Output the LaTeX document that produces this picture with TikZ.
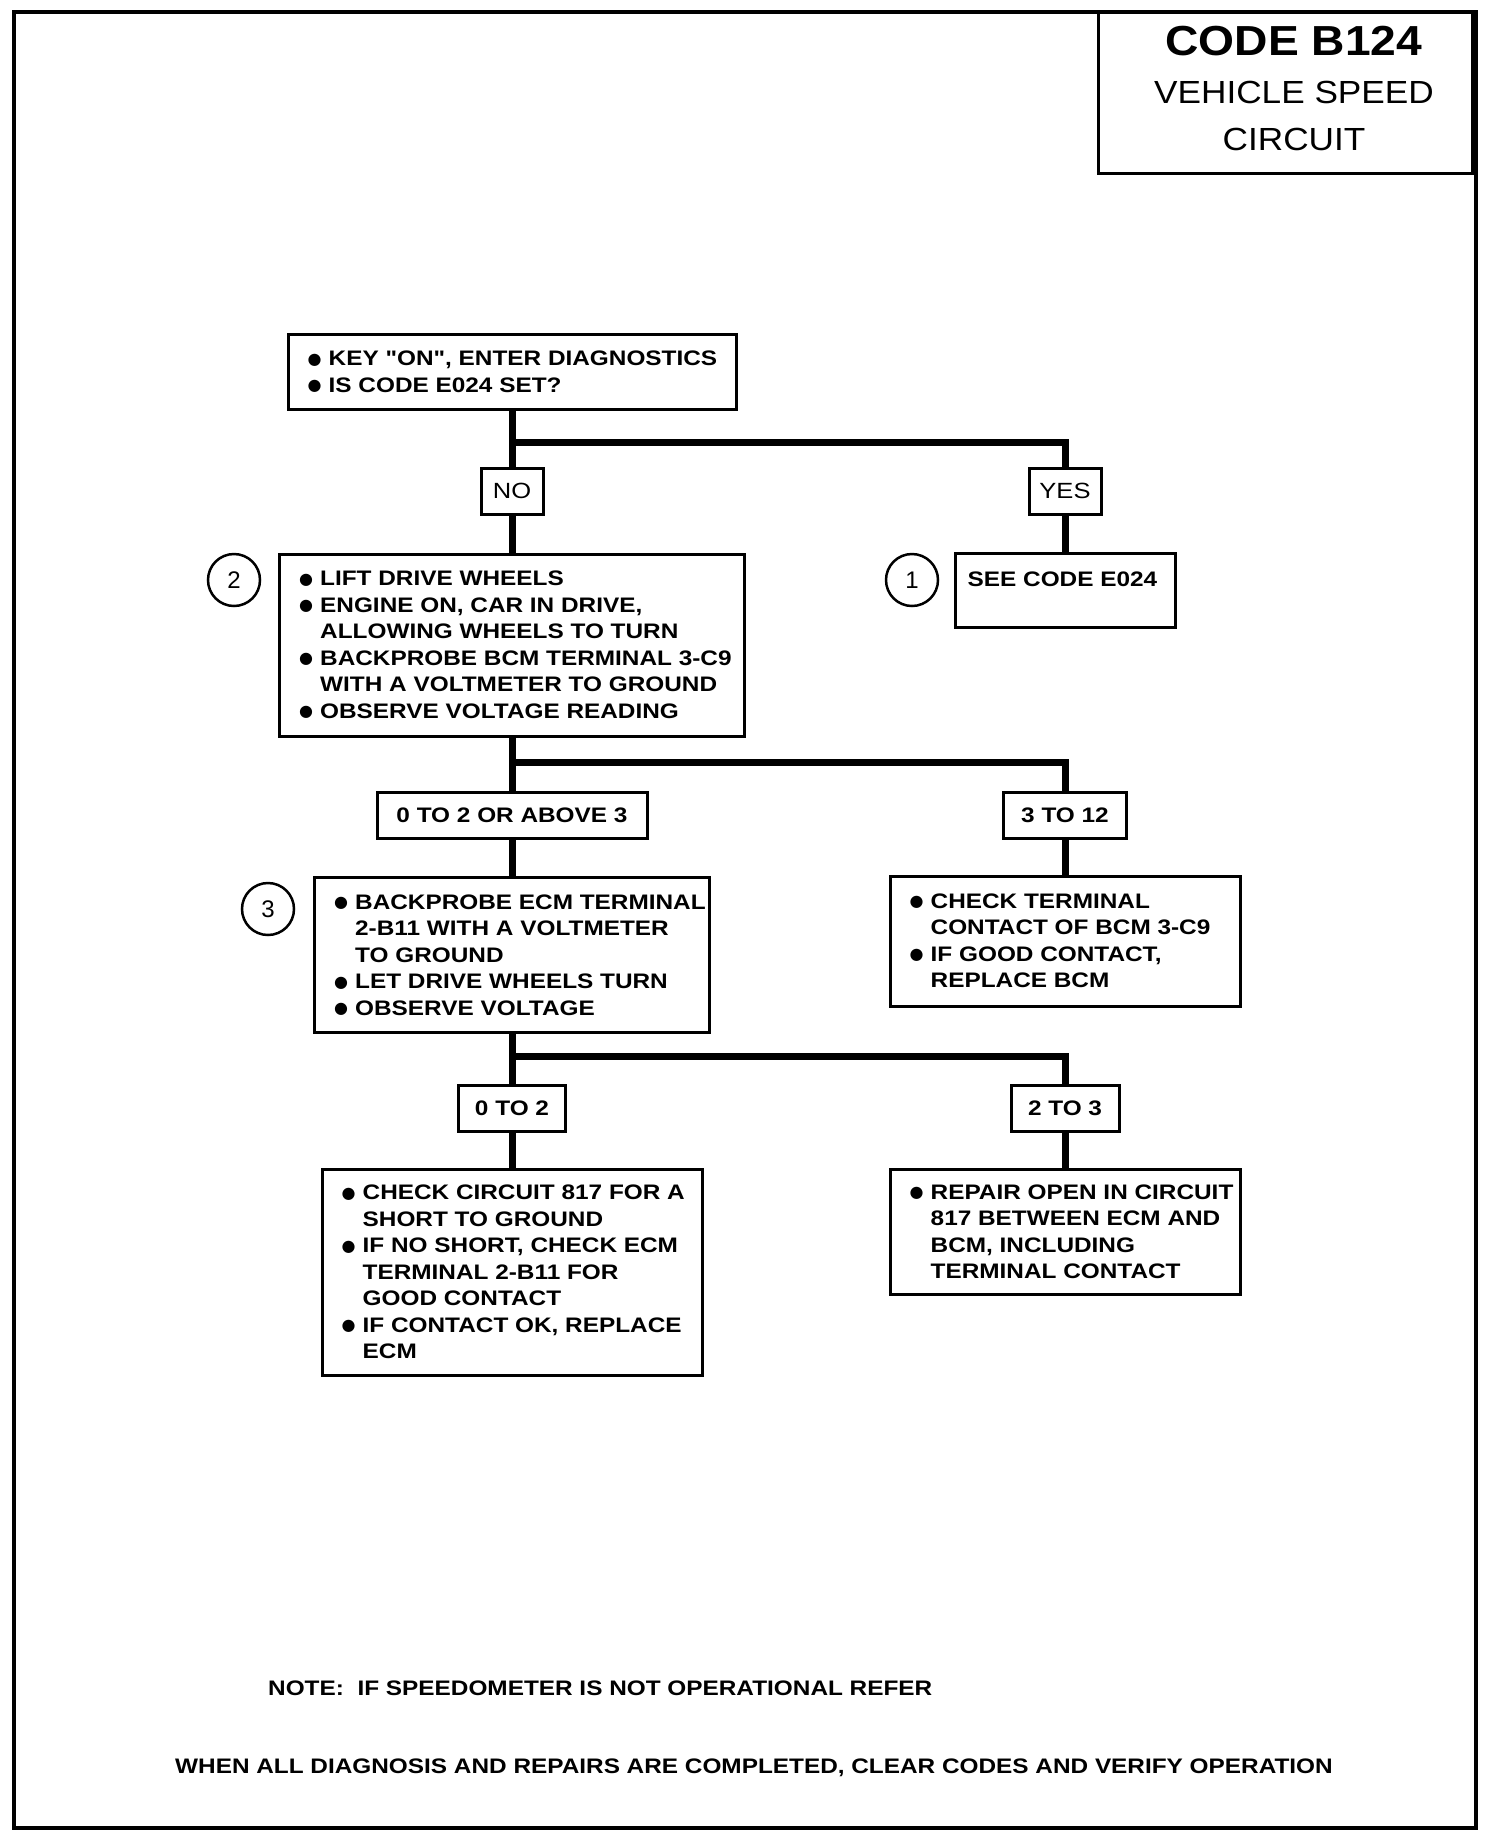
\documentclass[tikz,border=0pt]{standalone}
\usepackage{fontspec}
\setmainfont{Liberation Sans}
\newfontfamily\bodyf[FakeStretch=1.16]{Liberation Sans}
\newfontfamily\titlef[FakeStretch=1.1]{Liberation Sans}
\newfontfamily\symf{DejaVu Sans}
\newcommand{\bul}{\makebox[22pt][l]{\hspace*{1pt}\raisebox{1.5pt}{\symf\fontsize{16}{16}\selectfont ●}}}
\newcommand{\ind}{\hspace*{22pt}}
\begin{document}
\begin{tikzpicture}[x=1pt,y=-1pt,
  box/.style={draw, line width=3pt, inner sep=0pt},
  txt/.style={font=\bodyf\bfseries\fontsize{21}{26.5}\selectfont, align=left, inner sep=0pt, anchor=west},
  lab/.style={draw, line width=3pt, inner sep=0pt, minimum height=46pt, font=\bodyf\bfseries\fontsize{21}{26.5}\selectfont},
  ynlab/.style={draw, line width=3pt, inner sep=0pt, minimum height=46pt, font=\bodyf\fontsize{22}{22}\selectfont},
  conn/.style={line width=7pt},
  num/.style={circle, draw, line width=2.5pt, minimum size=52pt, inner sep=0pt, font=\fontsize{24}{24}\selectfont},
  note/.style={font=\bodyf\bfseries\fontsize{21}{21}\selectfont, inner sep=0pt}]
\useasboundingbox (0,0) rectangle (1488,1832);
\fill[white] (0,0) rectangle (1488,1832);
% outer frame
\node[draw, line width=3.5pt, minimum width=1462pt, minimum height=1816pt, inner sep=0pt, anchor=north west] (frame) at (12,10) {};
% title box
\node[draw, line width=3pt, minimum width=374pt, minimum height=162pt, inner sep=0pt, anchor=north east] (title) at (1474,10) {};
\node[font=\titlef\bfseries\fontsize{42}{42}\selectfont, inner sep=0pt] (t1) at (1294,41) {CODE B124};
\node[font=\titlef\fontsize{32}{32}\selectfont, inner sep=0pt] (t2) at (1294,92) {VEHICLE SPEED};
\node[font=\titlef\fontsize{32}{32}\selectfont, inner sep=0pt] (t3) at (1294,139) {CIRCUIT};

% box 1
\node[box, minimum width=448pt, minimum height=75pt] (b1) at (512,372) {};
\node[txt] (b1t) at ([xshift=20pt]b1.west) {\bul KEY "ON", ENTER DIAGNOSTICS\\\bul IS CODE E024 SET?};

\node[ynlab, minimum width=62pt] (no) at (512,491) {NO};
\node[ynlab, minimum width=72pt] (yes) at (1065,491) {YES};

% box 2
\node[box, minimum width=465pt, minimum height=182pt] (b2) at (512,645) {};
\node[txt] (b2t) at ([xshift=20pt]b2.west) {\bul LIFT DRIVE WHEELS\\\bul ENGINE ON, CAR IN DRIVE,\\\ind ALLOWING WHEELS TO TURN\\\bul BACKPROBE BCM TERMINAL 3-C9\\\ind WITH A VOLTMETER TO GROUND\\\bul OBSERVE VOLTAGE READING};
\node[num] (c2) at (234,580) {2};

% see code
\node[box, minimum width=220pt, minimum height=74pt] (see) at (1065,590) {};
\node[txt] (seet) at ([xshift=14pt, yshift=11pt]see.west) {SEE CODE E024};
\node[num] (c1) at (912,580) {1};

% labels row 2
\node[lab, minimum width=270pt] (l1) at (512,815) {0 TO 2 OR ABOVE 3};
\node[lab, minimum width=123pt] (l2) at (1065,815) {3 TO 12};

% box 3
\node[box, minimum width=395pt, minimum height=155pt] (b3) at (512,955) {};
\node[txt] (b3t) at ([xshift=20pt]b3.west) {\bul BACKPROBE ECM TERMINAL\\\ind 2-B11 WITH A VOLTMETER\\\ind TO GROUND\\\bul LET DRIVE WHEELS TURN\\\bul OBSERVE VOLTAGE};
\node[num] (c3) at (268,909) {3};

% box BCM
\node[box, minimum width=350pt, minimum height=130pt] (bb) at (1065,941) {};
\node[txt] (bbt) at ([xshift=20pt]bb.west) {\bul CHECK TERMINAL\\\ind CONTACT OF BCM 3-C9\\\bul IF GOOD CONTACT,\\\ind REPLACE BCM};

% labels row 3
\node[lab, minimum width=107pt] (l3) at (512,1108) {0 TO 2};
\node[lab, minimum width=108pt] (l4) at (1065,1108) {2 TO 3};

% box 4
\node[box, minimum width=380pt, minimum height=206pt] (b4) at (512,1272) {};
\node[txt] (b4t) at ([xshift=20pt]b4.west) {\bul CHECK CIRCUIT 817 FOR A\\\ind SHORT TO GROUND\\\bul IF NO SHORT, CHECK ECM\\\ind TERMINAL 2-B11 FOR\\\ind GOOD CONTACT\\\bul IF CONTACT OK, REPLACE\\\ind ECM};

% box 5
\node[box, minimum width=350pt, minimum height=125pt] (b5) at (1065,1232) {};
\node[txt] (b5t) at ([xshift=20pt]b5.west) {\bul REPAIR OPEN IN CIRCUIT\\\ind 817 BETWEEN ECM AND\\\ind BCM, INCLUDING\\\ind TERMINAL CONTACT};

% notes
\node[note, anchor=west] (n1) at (268,1688) {NOTE:\ \ IF SPEEDOMETER IS NOT OPERATIONAL REFER};
\node[note] (n2) at (754,1768) {WHEN ALL DIAGNOSIS AND REPAIRS ARE COMPLETED, CLEAR CODES AND VERIFY OPERATION};

% junctions
\coordinate (j1) at (512,442);
\coordinate (j2) at (512,762);
\coordinate (j3) at (512,1056);

% connectors
\draw[conn] (b1) -- (no);
\draw[conn] (no) -- (b2);
\draw[conn] (j1) -| (yes);
\draw[conn] (yes) -- (see);
\draw[conn] (b2) -- (l1);
\draw[conn] (l1) -- (b3);
\draw[conn] (j2) -| (l2);
\draw[conn] (l2) -- (bb);
\draw[conn] (b3) -- (l3);
\draw[conn] (l3) -- (b4);
\draw[conn] (j3) -| (l4);
\draw[conn] (l4) -- (b5);
\end{tikzpicture}
\end{document}
